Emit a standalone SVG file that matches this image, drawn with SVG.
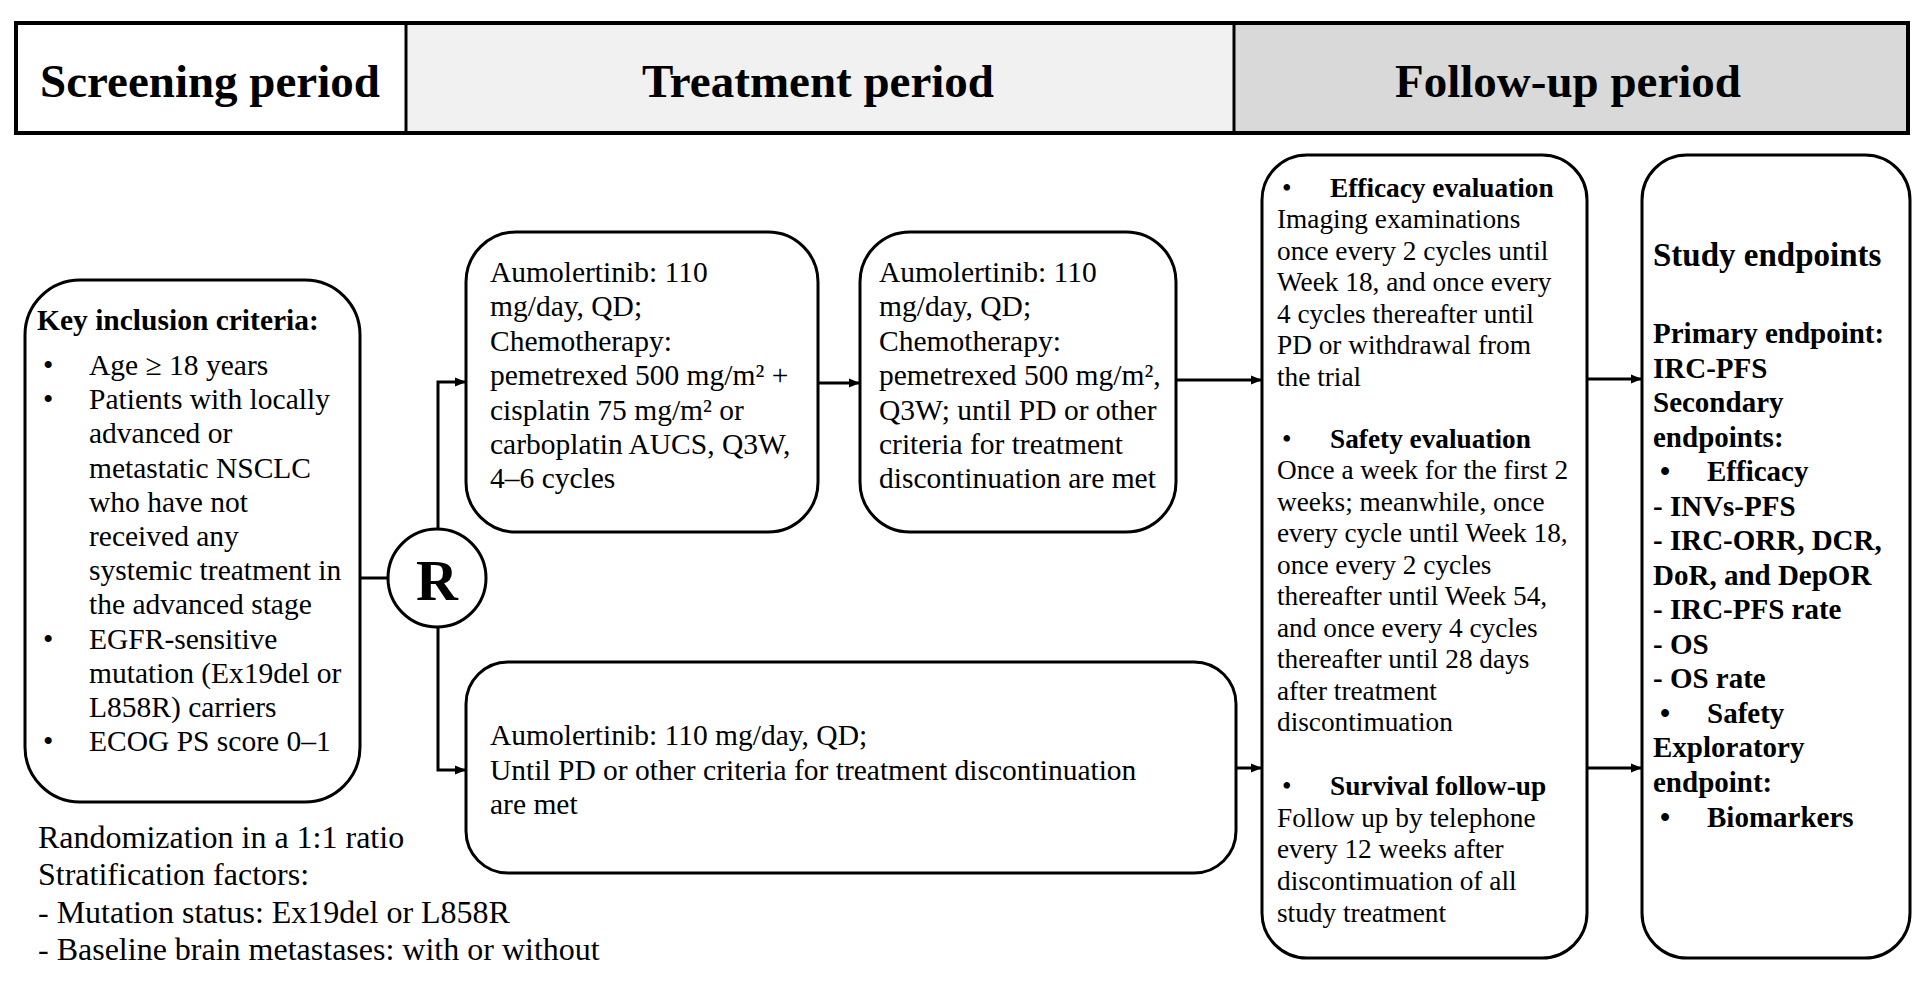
<svg xmlns="http://www.w3.org/2000/svg" width="1929" height="984" viewBox="0 0 1929 984">
<style>
text{font-family:"Liberation Serif","Times New Roman",serif;fill:#000}
.hd{font-size:47px;font-weight:bold;text-anchor:middle}
.t{font-size:29.5px}
.f{font-size:27.3px}
.e{font-size:29px;font-weight:bold}
.b{font-weight:bold}
.box{fill:#fff;stroke:#000;stroke-width:3}
.ln{fill:none;stroke:#000;stroke-width:3}
.sep{stroke:#000;stroke-width:3}
</style>
<defs>
<marker id="ah" viewBox="0 0 10 10" refX="10" refY="5" markerWidth="11" markerHeight="11" markerUnits="userSpaceOnUse" orient="auto"><path d="M0,1 L10,5 L0,9 z" fill="#000"/></marker>
</defs>
<rect width="1929" height="984" fill="#fff"/>

<g id="header">
<rect x="16" y="23" width="390" height="110" fill="#fff"/>
<rect x="406" y="23" width="828" height="110" fill="#f1f1f1"/>
<rect x="1234" y="23" width="674" height="110" fill="#d9d9d9"/>
<rect x="16" y="23" width="1892" height="110" fill="none" stroke="#000" stroke-width="4"/>
<line class="sep" x1="406" y1="23" x2="406" y2="133"/>
<line class="sep" x1="1234" y1="23" x2="1234" y2="133"/>
<text class="hd" x="210" y="97">Screening period</text>
<text class="hd" x="818" y="97">Treatment period</text>
<text class="hd" x="1568" y="97">Follow-up period</text>
</g>

<g id="connectors">
<line class="ln" x1="360" y1="578" x2="388" y2="578"/>
<polyline class="ln" points="438,529 438,382 466,382" marker-end="url(#ah)"/>
<polyline class="ln" points="438,627 438,770 466,770" marker-end="url(#ah)"/>
<line class="ln" x1="818" y1="383" x2="860" y2="383" marker-end="url(#ah)"/>
<line class="ln" x1="1176" y1="380" x2="1262" y2="380" marker-end="url(#ah)"/>
<line class="ln" x1="1236" y1="768" x2="1262" y2="768" marker-end="url(#ah)"/>
<line class="ln" x1="1587" y1="379" x2="1642" y2="379" marker-end="url(#ah)"/>
<line class="ln" x1="1587" y1="768" x2="1642" y2="768" marker-end="url(#ah)"/>
</g>

<g id="inclusion">
<rect class="box" x="25" y="280" width="335" height="522" rx="55" ry="55"/>
<text class="t b" x="37" y="330">Key inclusion criteria:</text>
<text class="t" x="43" y="375">•</text>
<text class="t" x="89" y="375">Age ≥ 18 years</text>
<text class="t" x="43" y="409">•</text>
<text class="t" x="89" y="409">Patients with locally</text>
<text class="t" x="89" y="443">advanced or</text>
<text class="t" x="89" y="478">metastatic NSCLC</text>
<text class="t" x="89" y="512">who have not</text>
<text class="t" x="89" y="546">received any</text>
<text class="t" x="89" y="580">systemic treatment in</text>
<text class="t" x="89" y="614">the advanced stage</text>
<text class="t" x="43" y="649">•</text>
<text class="t" x="89" y="649">EGFR-sensitive</text>
<text class="t" x="89" y="683">mutation (Ex19del or</text>
<text class="t" x="89" y="717">L858R) carriers</text>
<text class="t" x="43" y="751">•</text>
<text class="t" x="89" y="751">ECOG PS score 0–1</text>
</g>

<g id="randomization">
<circle cx="437" cy="578" r="49" fill="#fff" stroke="#000" stroke-width="3"/>
<text x="437" y="600" font-size="58" font-weight="bold" text-anchor="middle">R</text>
</g>

<g id="combo-induction">
<rect class="box" x="466" y="232" width="352" height="300" rx="50" ry="50"/>
<text class="t" x="490" y="282">Aumolertinib: 110</text>
<text class="t" x="490" y="316">mg/day, QD;</text>
<text class="t" x="490" y="351">Chemotherapy:</text>
<text class="t" x="490" y="385">pemetrexed 500 mg/m² +</text>
<text class="t" x="490" y="420">cisplatin 75 mg/m² or</text>
<text class="t" x="490" y="454">carboplatin AUCS, Q3W,</text>
<text class="t" x="490" y="488">4–6 cycles</text>
</g>

<g id="combo-maintenance">
<rect class="box" x="860" y="232" width="316" height="300" rx="50" ry="50"/>
<text class="t" x="879" y="282">Aumolertinib: 110</text>
<text class="t" x="879" y="316">mg/day, QD;</text>
<text class="t" x="879" y="351">Chemotherapy:</text>
<text class="t" x="879" y="385">pemetrexed 500 mg/m²,</text>
<text class="t" x="879" y="420">Q3W; until PD or other</text>
<text class="t" x="879" y="454">criteria for treatment</text>
<text class="t" x="879" y="488">discontinuation are met</text>
</g>

<g id="mono">
<rect class="box" x="466" y="662" width="770" height="211" rx="42" ry="42"/>
<text class="t" x="490" y="745">Aumolertinib: 110 mg/day, QD;</text>
<text class="t" x="490" y="780">Until PD or other criteria for treatment discontinuation</text>
<text class="t" x="490" y="814">are met</text>
</g>

<g id="stratification">
<text font-size="32" x="38" y="848">Randomization in a 1:1 ratio</text>
<text font-size="32" x="38" y="885">Stratification factors:</text>
<text font-size="32" x="38" y="923">- Mutation status: Ex19del or L858R</text>
<text font-size="32" x="38" y="960">- Baseline brain metastases: with or without</text>
</g>

<g id="followup">
<rect class="box" x="1262" y="155" width="325" height="803" rx="45" ry="45"/>
<text class="f" x="1282" y="197">•</text>
<text class="f b" x="1330" y="197">Efficacy evaluation</text>
<text class="f" x="1277" y="228">Imaging examinations</text>
<text class="f" x="1277" y="260">once every 2 cycles until</text>
<text class="f" x="1277" y="291">Week 18, and once every</text>
<text class="f" x="1277" y="323">4 cycles thereafter until</text>
<text class="f" x="1277" y="354">PD or withdrawal from</text>
<text class="f" x="1277" y="386">the trial</text>
<text class="f" x="1282" y="448">•</text>
<text class="f b" x="1330" y="448">Safety evaluation</text>
<text class="f" x="1277" y="479">Once a week for the first 2</text>
<text class="f" x="1277" y="511">weeks; meanwhile, once</text>
<text class="f" x="1277" y="542">every cycle until Week 18,</text>
<text class="f" x="1277" y="574">once every 2 cycles</text>
<text class="f" x="1277" y="605">thereafter until Week 54,</text>
<text class="f" x="1277" y="637">and once every 4 cycles</text>
<text class="f" x="1277" y="668">thereafter until 28 days</text>
<text class="f" x="1277" y="700">after treatment</text>
<text class="f" x="1277" y="731">discontimuation</text>
<text class="f" x="1282" y="795">•</text>
<text class="f b" x="1330" y="795">Survival follow-up</text>
<text class="f" x="1277" y="827">Follow up by telephone</text>
<text class="f" x="1277" y="858">every 12 weeks after</text>
<text class="f" x="1277" y="890">discontimuation of all</text>
<text class="f" x="1277" y="922">study treatment</text>
</g>

<g id="endpoints">
<rect class="box" x="1642" y="155" width="268" height="803" rx="45" ry="45"/>
<text class="b" font-size="33" x="1653" y="266">Study endpoints</text>
<text class="e" x="1653" y="343">Primary endpoint:</text>
<text class="e" x="1653" y="378">IRC-PFS</text>
<text class="e" x="1653" y="412">Secondary</text>
<text class="e" x="1653" y="447">endpoints:</text>
<text class="e" x="1660" y="481">•</text>
<text class="e" x="1707" y="481">Efficacy</text>
<text class="e" x="1653" y="516">- INVs-PFS</text>
<text class="e" x="1653" y="550">- IRC-ORR, DCR,</text>
<text class="e" x="1653" y="585">DoR, and DepOR</text>
<text class="e" x="1653" y="619">- IRC-PFS rate</text>
<text class="e" x="1653" y="654">- OS</text>
<text class="e" x="1653" y="688">- OS rate</text>
<text class="e" x="1660" y="723">•</text>
<text class="e" x="1707" y="723">Safety</text>
<text class="e" x="1653" y="757">Exploratory</text>
<text class="e" x="1653" y="792">endpoint:</text>
<text class="e" x="1660" y="827">•</text>
<text class="e" x="1707" y="827">Biomarkers</text>
</g>
</svg>
